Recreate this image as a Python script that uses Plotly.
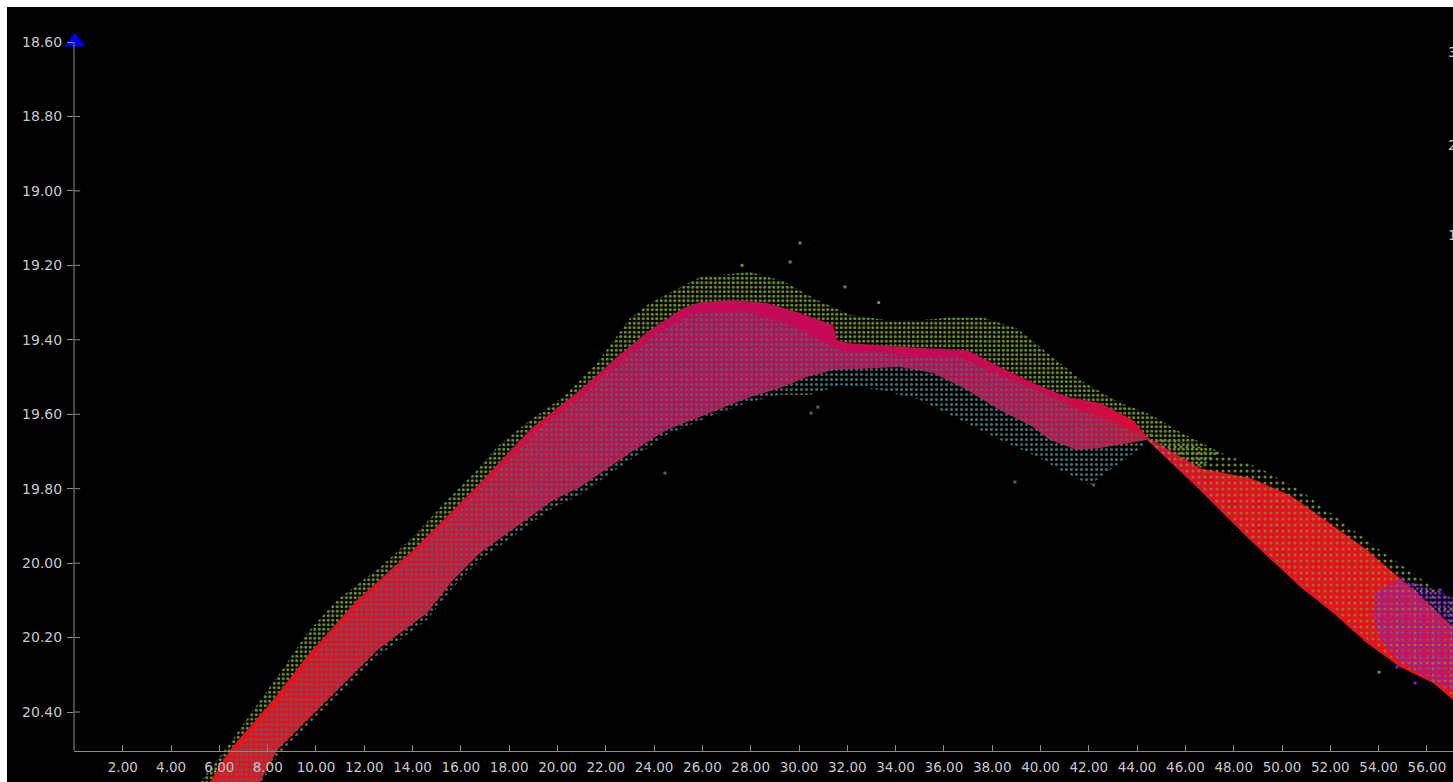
import plotly.graph_objects as go

# ---- axis ticks ----
x_ticks = [2, 4, 6, 8, 10, 12, 14, 16, 18, 20, 22, 24, 26, 28, 30, 32, 34, 36, 38,
           40, 42, 44, 46, 48, 50, 52, 54, 56]
y_ticks = [18.6, 18.8, 19.0, 19.2, 19.4, 19.6, 19.8, 20.0, 20.2, 20.4]
right_labels = ["3", "2", "1"]

# ---- envelope band: upper edge (left -> right) and lower edge (right -> left) ----
band_top_x = [4.99, 5.61, 6.44, 8.22, 9.83, 10.17, 11.70, 14.02, 16.79, 18.86, 20.93, 22.46,
              23.83, 25.19, 25.90, 27.27, 28.67, 30.04, 31.41, 31.57, 32.11, 34.18, 36.96,
              38.32, 39.69, 41.10, 42.46, 43.83, 44.41, 46.60, 48.67, 50.33, 53.52, 55.59,
              57.08, 57.37]
band_top_y = [20.637, 20.588, 20.502, 20.368, 20.234, 20.212, 20.099, 19.965, 19.785, 19.642,
              19.535, 19.446, 19.374, 19.315, 19.299, 19.293, 19.301, 19.328, 19.360, 19.401,
              19.409, 19.419, 19.428, 19.473, 19.516, 19.554, 19.570, 19.616, 19.661, 19.745,
              19.771, 19.817, 19.965, 20.080, 20.172, 20.190]
band_bot_x = [57.37, 57.08, 56.25, 54.88, 53.52, 52.11, 50.75, 48.67, 46.60, 44.41, 42.46,
              41.51, 40.39, 39.69, 38.32, 36.96, 35.55, 34.18, 31.41, 30.33, 29.34, 27.97,
              26.60, 24.53, 23.00, 20.93, 19.81, 16.79, 15.67, 14.60, 12.53, 10.46, 8.39,
              7.68, 7.06]
band_bot_y = [20.376, 20.368, 20.322, 20.279, 20.215, 20.134, 20.064, 19.938, 19.804, 19.669,
              19.691, 19.696, 19.669, 19.634, 19.589, 19.535, 19.489, 19.473, 19.481, 19.500,
              19.527, 19.554, 19.589, 19.642, 19.704, 19.796, 19.831, 19.973, 20.045, 20.134,
              20.234, 20.368, 20.502, 20.588, 20.637]

# ---- olive sample cloud riding on the upper edge ----
green_edge_x = [4.58, 5.20, 6.44, 7.39, 8.51, 9.63, 10.87, 12.65, 14.02, 15.42, 16.67, 17.49,
                18.86, 20.23, 21.64, 23.00, 23.83, 25.90, 27.97, 29.34, 30.75, 32.11, 34.18,
                36.25, 37.62, 39.03, 40.39, 41.76, 43.17, 44.54, 45.90, 47.42]
green_edge_y = [20.637, 20.588, 20.483, 20.395, 20.295, 20.188, 20.099, 20.011, 19.930, 19.831,
                19.750, 19.688, 19.616, 19.554, 19.462, 19.342, 19.301, 19.231, 19.218, 19.242,
                19.293, 19.333, 19.352, 19.340, 19.340, 19.370, 19.440, 19.512, 19.566, 19.600,
                19.652, 19.702]
# olive samples spread through the right-hand branch
green_right_x = [44.41, 47.42, 49.09, 50.75, 52.40, 54.06, 55.71, 57.37,
                 57.37, 56.25, 54.88, 53.52, 52.11, 50.75, 48.67, 46.60, 44.41]
green_right_y = [19.650, 19.702, 19.745, 19.804, 19.884, 19.965, 20.040, 20.113,
                 20.370, 20.318, 20.272, 20.205, 20.125, 20.055, 19.930, 19.795, 19.669]
green_out_x = [30.04, 29.63, 27.64, 31.90, 33.30, 54.02]
green_out_y = [19.140, 19.191, 19.200, 19.258, 19.300, 20.293]

# ---- slate samples inside / below the band ----
teal_top_x = [5.40, 5.82, 6.65, 8.43, 10.04, 11.90, 14.22, 17.00, 19.07, 21.14, 22.59, 24.03,
              25.48, 27.56, 29.63, 31.70, 34.18, 36.66, 38.32, 39.98, 41.64, 43.29, 44.33]
teal_top_y = [20.637, 20.588, 20.502, 20.368, 20.234, 20.099, 19.965, 19.785, 19.648, 19.543,
              19.460, 19.387, 19.333, 19.320, 19.360, 19.428, 19.441, 19.449, 19.495, 19.540,
              19.589, 19.629, 19.661]
teal_bot_x = [44.33, 42.88, 42.05, 40.81, 39.98, 38.32, 36.66, 35.01, 33.35, 31.70, 30.46,
              29.21, 27.97, 26.60, 24.53, 23.00, 20.93, 19.81, 16.79, 15.67, 14.60, 12.53,
              10.46, 8.39, 7.76, 7.14]
teal_bot_y = [19.683, 19.750, 19.790, 19.750, 19.718, 19.669, 19.616, 19.562, 19.535, 19.522,
              19.548, 19.548, 19.567, 19.599, 19.656, 19.723, 19.817, 19.852, 19.992, 20.067,
              20.153, 20.252, 20.384, 20.521, 20.588, 20.637]
teal_out_x = [24.45, 30.78, 30.50, 38.94, 42.20]
teal_out_y = [19.758, 19.581, 19.597, 19.782, 19.790]

# ---- violet samples at the right end ----
purple_x = [53.72, 53.85, 54.88, 56.13, 57.37, 57.37, 56.13, 54.88, 54.06]
purple_y = [20.140, 20.078, 20.040, 20.067, 20.099, 20.355, 20.314, 20.266, 20.207]
purple_out_x = [56.54, 56.88, 55.51, 54.76]
purple_out_y = [20.072, 20.131, 20.322, 20.279]

GREEN = "#6a8c2e"
TEAL = "#3d6a6c"
PURPLE = "#7b22d6"
AXIS = "#8c8c8c"
LABEL = "#c8c8c8"

fig = go.Figure()

# envelope band with a red -> crimson -> red gradient along x
fig.add_trace(go.Scatter(
    x=band_top_x + band_bot_x, y=band_top_y + band_bot_y,
    mode="lines", fill="toself", line=dict(width=0, color="rgba(0,0,0,0)"),
    fillgradient=dict(type="horizontal", colorscale=[
        [0.00, "#ff0a14"], [0.095, "#f40a1c"], [0.19, "#e20c30"], [0.286, "#cf0c46"],
        [0.363, "#c40a55"], [0.592, "#c40a55"], [0.706, "#cc0c48"], [0.763, "#dc0c30"],
        [0.821, "#ec0c20"], [1.00, "#f20c18"]]),
    hoverinfo="skip", showlegend=False))


def dotted_region(xs, ys, color, size, solidity):
    fig.add_trace(go.Scatter(
        x=xs, y=ys, mode="lines", fill="toself",
        line=dict(width=0, color="rgba(0,0,0,0)"), fillcolor="rgba(0,0,0,0)",
        fillpattern=dict(shape=".", size=size, solidity=solidity, fgcolor=color,
                         bgcolor="rgba(0,0,0,0)", fillmode="replace"),
        hoverinfo="skip", showlegend=False))


def scatter_points(xs, ys, color):
    fig.add_trace(go.Scatter(
        x=xs, y=ys, mode="markers",
        marker=dict(symbol="square", size=3, color=color, line=dict(width=0)),
        hoverinfo="skip", showlegend=False))


# slate cloud
dotted_region(teal_top_x + teal_bot_x, teal_top_y + teal_bot_y, TEAL, 5, 0.32)
# olive cloud above the band (closed back along the band's upper edge)
inner_x = [x for x in band_top_x if x <= 46.6][::-1]
inner_y = [y for x, y in zip(band_top_x, band_top_y) if x <= 46.6][::-1]
dotted_region(green_edge_x + inner_x, green_edge_y + inner_y, GREEN, 4.5, 0.42)
dotted_region(green_right_x, green_right_y, GREEN, 6, 0.22)
# violet cloud
dotted_region(purple_x, purple_y, PURPLE, 4.5, 0.42)

scatter_points(green_out_x, green_out_y, GREEN)
scatter_points(teal_out_x, teal_out_y, TEAL)
scatter_points(purple_out_x, purple_out_y, PURPLE)

# blue marker at the top of the vertical axis
fig.add_trace(go.Scatter(
    x=[0], y=[y_ticks[0]], mode="markers", cliponaxis=False,
    marker=dict(symbol="triangle-up", size=18, color="#0000ff", line=dict(width=0)),
    hoverinfo="skip", showlegend=False))

shapes = [
    # black canvas inside the thin white frame
    dict(type="rect", xref="paper", yref="paper", x0=-0.0486, x1=1.0, y0=0, y1=1.0473,
         fillcolor="black", line=dict(width=0), layer="below"),
    # vertical axis line, from the top tick down to the horizontal axis
    dict(type="line", xref="paper", yref="y", x0=0, x1=0, y0=18.6, y1=20.504,
         line=dict(color=AXIS, width=1), layer="above"),
]
# short inner halves of the vertical-axis ticks, so they cross the axis line
for yv in y_ticks[1:]:
    shapes.append(dict(type="line", xref="paper", yref="y", x0=0, x1=0.0045, y0=yv, y1=yv,
                       line=dict(color=AXIS, width=1), layer="above"))

annotations = [
    dict(text=t, xref="paper", yref="paper", x=0.9949, y=yy, xanchor="left",
         yanchor="middle", showarrow=False, font=dict(size=14, color=LABEL))
    for t, yy in zip(right_labels, [0.9865, 0.8608, 0.7392])
]

fig.update_layout(
    width=1453, height=782,
    margin=dict(l=74, r=0, t=42, b=0, pad=0),
    paper_bgcolor="white", plot_bgcolor="black",
    showlegend=False,
    font=dict(family="DejaVu Sans", size=14, color=LABEL),
    shapes=shapes, annotations=annotations,
    xaxis=dict(range=[-0.02, 57.08], anchor="free", position=0.0419,
               showline=True, linecolor=AXIS, linewidth=1,
               ticks="inside", ticklen=6, tickcolor=AXIS, tickwidth=1,
               tickvals=x_ticks, tickformat=".2f", tickfont=dict(color=LABEL, size=13.5),
               ticklabelstandoff=4,
               showgrid=False, zeroline=False, layer="above traces"),
    yaxis=dict(range=[20.588, 18.6], showline=False,
               ticks="outside", ticklen=6, tickcolor=AXIS, tickwidth=1,
               tickvals=y_ticks, tickformat=".2f", tickfont=dict(color=LABEL, size=14),
               ticklabelstandoff=2,
               showgrid=False, zeroline=False),
)

fig.write_html("out.html")
